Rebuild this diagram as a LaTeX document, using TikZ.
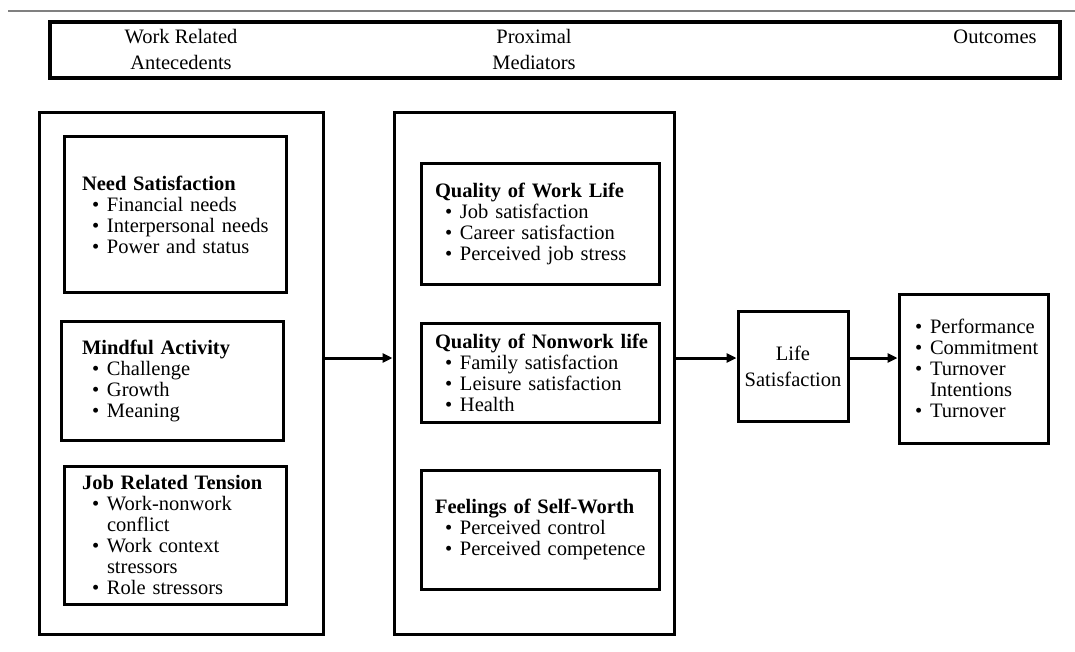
\documentclass[tikz,border=0pt]{standalone}
\usepackage{fontspec}
\setmainfont{Liberation Serif}
\usetikzlibrary{arrows.meta}
\newcommand{\itm}[2][10pt]{\mbox{\hspace*{#1}\makebox[15pt][l]{\textbullet}#2}}
\newcommand{\cnt}[2][10pt]{\mbox{\hspace*{#1}\hspace*{15pt}#2}}
\newcommand{\hdg}[1]{\mbox{\textbf{#1}}}

\begin{document}
\begin{tikzpicture}[x=1pt,y=-1pt,
  box/.style={draw, line width=3pt, inner sep=0pt, font=\fontsize{20.5}{21}\selectfont},
  grp/.style={box, align=left, inner xsep=#1},
  lbl/.style={align=center, inner sep=0pt, font=\fontsize{20.5}{26}\selectfont},
  arr/.style={line width=3pt, -{Triangle[length=10pt,width=9pt]}}]
\useasboundingbox (0,0) rectangle (1075,652);
\draw[gray, line width=1.5pt] (8,11) -- (1075,11);
% header
\node[box, line width=4.5pt, minimum width=1010pt, minimum height=56pt] (head) at (555,50) {};
\node[lbl] (antlbl) at (181,49) {Work Related\\Antecedents};
\node[lbl] (medlbl) at (534,49) {Proximal\\Mediators};
\node[lbl] (outlbl) at (995,37) {Outcomes};
% antecedents
\node[box, minimum width=284pt, minimum height=521pt] (antec) at (181,373.5) {};
\node[grp=18pt, text width=186pt, minimum width=222pt, minimum height=155pt] (needs) at (175,214.5)
  {\hdg{Need Satisfaction}\\ \itm{Financial needs}\\ \itm{Interpersonal needs}\\ \itm{Power and status}};
\node[grp=21pt, text width=180pt, minimum width=222pt, minimum height=119pt] (mindful) at (172,380.5)
  {\hdg{Mindful Activity}\\ \itm{Challenge}\\ \itm{Growth}\\ \itm{Meaning}};
\node[grp=18pt, text width=186pt, minimum width=222pt, minimum height=138pt] (tension) at (175,535)
  {\hdg{Job Related Tension}\\ \itm{Work-nonwork}\\ \cnt{conflict}\\ \itm{Work context}\\ \cnt{stressors}\\ \itm{Role stressors}};
% mediators
\node[box, minimum width=280pt, minimum height=521pt] (medi) at (534,373.5) {};
\node[grp=14pt, text width=210pt, minimum width=238pt, minimum height=120pt] (work) at (540,224)
  {\hdg{Quality of Work Life}\\ \itm{Job satisfaction}\\ \itm{Career satisfaction}\\ \itm{Perceived job stress}};
\node[grp=14pt, text width=210pt, minimum width=238pt, minimum height=99pt] (nonwork) at (540,372.5)
  {\hdg{Quality of Nonwork life}\\ \itm{Family satisfaction}\\ \itm{Leisure satisfaction}\\ \itm{Health}};
\node[grp=14pt, text width=210pt, minimum width=238pt, minimum height=119pt] (worth) at (540,529.5)
  {\hdg{Feelings of Self-Worth}\\ \itm{Perceived control}\\ \itm{Perceived competence}};
% outcomes
\node[box, lbl, minimum width=110pt, minimum height=110pt] (life) at (793,366) {Life\\Satisfaction};
\node[grp=10pt, text width=129pt, minimum width=149pt, minimum height=149pt] (outc) at (973.5,368.5)
  {\itm[6pt]{Performance}\\ \itm[6pt]{Commitment}\\ \itm[6pt]{Turnover}\\ \cnt[6pt]{Intentions}\\ \itm[6pt]{Turnover}};
% arrows
\coordinate (ay) at (0,358);
\path[draw,arr] (antec.east |- ay) -- (medi.west |- ay);
\path[draw,arr] (medi.east |- ay) -- (life.west |- ay);
\path[draw,arr] (life.east |- ay) -- (outc.west |- ay);
\end{tikzpicture}
\end{document}
